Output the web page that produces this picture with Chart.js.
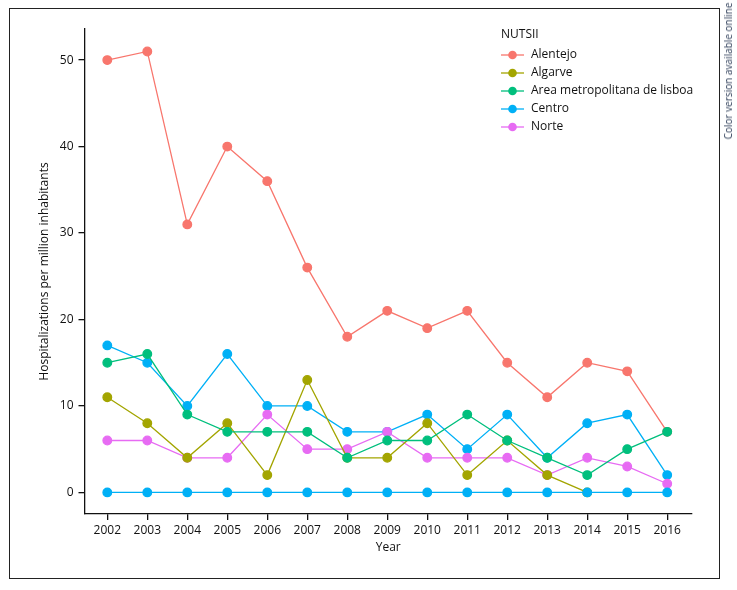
<!DOCTYPE html>
<html>
<head>
<meta charset="utf-8">
<script src="https://cdn.jsdelivr.net/npm/chart.js@4.4.0/dist/chart.umd.min.js"></script>
<style>
html,body{margin:0;padding:0;background:#fff;}
#wrap{position:relative;width:737px;height:590px;}
#frame{position:absolute;left:9px;top:8px;width:711px;height:571px;border:1.5px solid #222;box-sizing:border-box;pointer-events:none;}
#note{position:absolute;left:728px;top:71px;transform:translate(-50%,-50%) rotate(-90deg);white-space:nowrap;font-family:"Open Sans",sans-serif;font-size:10px;color:#2a3a55;}
</style>
</head>
<body>
<div id="wrap">
<canvas id="c" width="737" height="590"></canvas>
<div id="frame"></div>
<div id="note">Color version available online</div>
</div>
<script>
const years = [2002,2003,2004,2005,2006,2007,2008,2009,2010,2011,2012,2013,2014,2015,2016];
const alentejo = [50,51,31,40,36,26,18,21,19,21,15,11,15,14,7];
const algarve = [11,8,4,8,2,13,4,4,8,2,6,2,0,null,null];
const lisboa = [15,16,9,7,7,7,4,6,6,9,6,4,2,5,7];
const centro = [17,15,10,16,10,10,7,7,9,5,9,4,8,9,2];
const norte = [6,6,4,4,9,5,5,7,4,4,4,2,4,3,1];
const zeroLine = [0,0,0,0,0,0,0,0,0,0,0,0,0,0,0];
const yTicks = [0,10,20,30,40,50];
const seriesNames = ["Alentejo","Algarve","Area metropolitana de lisboa","Centro","Norte"];
const colors = ["#F8766D","#A3A500","#00BF7D","#00B0F6","#E76BF3"];

const FONT = '"Open Sans", sans-serif';
function ds(label, data, color, legend, ord){
  return {label, data: years.map((y,i)=>({x:y,y:data[i]})), borderColor:color, backgroundColor:color,
    pointBackgroundColor:color, pointBorderColor:color, pointRadius:4.3, pointHoverRadius:4.3,
    borderWidth:1.3, tension:0, spanGaps:false, order:ord, _legend:legend};
}
const datasets = [
  ds(seriesNames[0], alentejo, colors[0], true, 6),
  ds(seriesNames[1], algarve, colors[1], true, 3),
  ds(seriesNames[2], lisboa, colors[2], true, 1),
  ds("", zeroLine, colors[3], false, 2),
  ds(seriesNames[3], centro, colors[3], true, 5),
  ds(seriesNames[4], norte, colors[4], true, 4)
];

const extras = {
  id:'extras',
  afterDraw(chart){
    const ctx = chart.ctx;
    const ca = chart.chartArea;
    ctx.save();
    ctx.fillStyle = '#111';
    ctx.font = '12px ' + FONT;
    ctx.textAlign = 'center';
    ctx.textBaseline = 'middle';
    ctx.fillText('Year', (ca.left+ca.right)/2, 548);
    ctx.save();
    ctx.translate(45, (ca.top+ca.bottom)/2);
    ctx.rotate(-Math.PI/2);
    ctx.fillText('Hospitalizations per million inhabitants', 0, 0);
    ctx.restore();
    // legend
    ctx.textAlign = 'left';
    ctx.font = '12px ' + FONT;
    ctx.fillText('NUTSII', 501, 35);
    const items = datasets.filter(d=>d._legend);
    items.forEach((d,i)=>{
      const y = 55 + i*18;
      ctx.strokeStyle = d.borderColor;
      ctx.lineWidth = 1.3;
      ctx.beginPath(); ctx.moveTo(501,y); ctx.lineTo(524,y); ctx.stroke();
      ctx.fillStyle = d.borderColor;
      ctx.beginPath(); ctx.arc(512.5,y,4.3,0,Math.PI*2); ctx.fill();
      ctx.fillStyle = '#111';
      ctx.fillText(d.label, 531, y);
    });
    ctx.restore();
  }
};

new Chart(document.getElementById('c'), {
  type:'line',
  data:{datasets},
  options:{
    responsive:false,
    animation:false,
    events:[],
    layout:{padding:{left:0,top:29,right:45,bottom:0}},
    plugins:{legend:{display:false},tooltip:{enabled:false}},
    scales:{
      x:{type:'linear', min:2001.43, max:2016.62,
        afterBuildTicks(s){ s.ticks = years.map(v=>({value:v})); },
        afterFit(s){ s.height = 76; },
        grid:{display:true, drawOnChartArea:false, drawTicks:true, tickLength:6, color:'#111', lineWidth:1.3},
        border:{display:true, color:'#111', width:1.3},
        ticks:{color:'#111', font:{family:FONT, size:12}, padding:3, maxRotation:0, autoSkip:false,
          callback:v=>String(v)}
      },
      y:{type:'linear', min:-2.5, max:53.6,
        afterBuildTicks(s){ s.ticks = yTicks.map(v=>({value:v})); },
        afterFit(s){ s.width = 84.5; },
        grid:{display:true, drawOnChartArea:false, drawTicks:true, tickLength:6, color:'#111', lineWidth:1.3},
        border:{display:true, color:'#111', width:1.3},
        ticks:{color:'#111', font:{family:FONT, size:12}, padding:5, callback:v=>String(v)}
      }
    }
  },
  plugins:[extras]
});
</script>
</body>
</html>
